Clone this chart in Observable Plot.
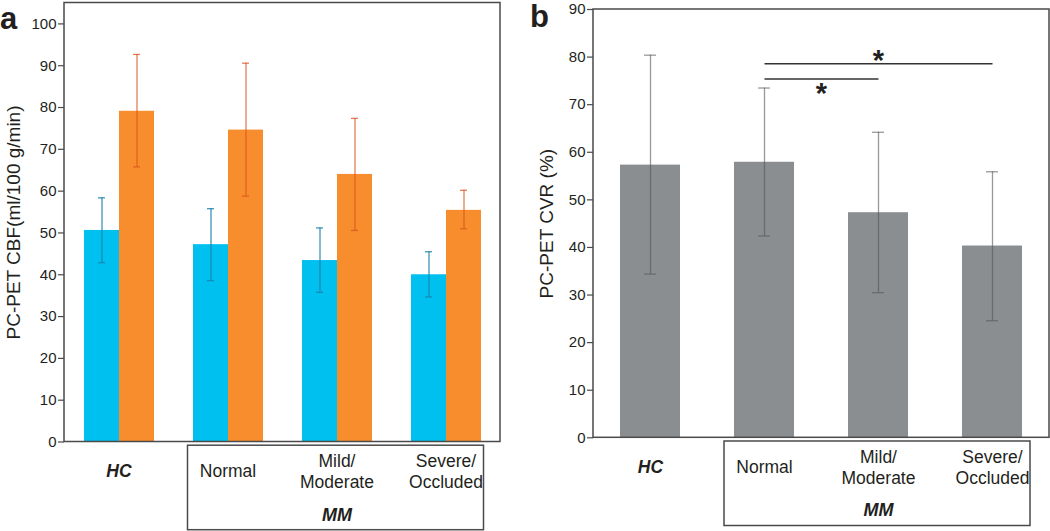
<!DOCTYPE html>
<html><head><meta charset="utf-8">
<script src="https://cdn.jsdelivr.net/npm/d3@7"></script>
<script src="https://cdn.jsdelivr.net/npm/@observablehq/plot@0.6"></script>
<style>
body{margin:0;background:#fff;}
#wrap{position:relative;width:1050px;height:531px;overflow:hidden;font-family:"Liberation Sans",Arial,Helvetica,sans-serif;color:#231f20;}
.panel{position:absolute;top:0;}
.tag{position:absolute;font-weight:bold;font-size:31px;line-height:1;}
</style></head><body>
<div id="wrap">
<div id="pa" class="panel" style="left:0"></div>
<div id="pb" class="panel" style="left:525px"></div>
<div class="tag" style="left:0;top:2.5px">a</div>
<div class="tag" style="left:530px;top:1px">b</div>
</div>
<script>
// ---------- data ----------
const groups = ["HC", "Normal", "Mild/Moderate", "Severe/Occluded"];
const groupLabels = ["HC", "Normal", "Mild/\nModerate", "Severe/\nOccluded"];
const series = ["Baseline", "Acetazolamide"];
const cbfBaseMean = [50.6, 47.2, 43.4, 40.0];
const cbfBaseLo   = [42.9, 38.6, 35.8, 34.7];
const cbfBaseHi   = [58.4, 55.8, 51.2, 45.5];
const cbfAczMean  = [79.1, 74.6, 64.0, 55.4];
const cbfAczLo    = [65.8, 58.8, 50.6, 51.0];
const cbfAczHi    = [92.7, 90.6, 77.4, 60.2];
const cvrMean = [57.3, 57.9, 47.3, 40.3];
const cvrLo   = [34.4, 42.4, 30.5, 24.6];
const cvrHi   = [80.4, 73.5, 64.2, 55.9];
const cbfTicks = [0, 10, 20, 30, 40, 50, 60, 70, 80, 90, 100];
const cvrTicks = [0, 10, 20, 30, 40, 50, 60, 70, 80, 90];
const sigFrom = ["Normal", "Normal"];
const sigTo = ["Mild/Moderate", "Severe/Occluded"];
const sigLineY = [75.4, 78.6];
const sigStarY = [73.3, 80.1];
const cbfLabel = "PC-PET CBF(ml/100 g/min)";
const cvrLabel = "PC-PET CVR (%)";
const mmLabel = "MM";

// ---------- tables ----------
const cbfRows = [];
groups.forEach((g, i) => {
  cbfRows.push({group: g, series: series[0], mean: cbfBaseMean[i], lo: cbfBaseLo[i], hi: cbfBaseHi[i]});
  cbfRows.push({group: g, series: series[1], mean: cbfAczMean[i], lo: cbfAczLo[i], hi: cbfAczHi[i]});
});
const cvrRows = groups.map((g, i) => ({group: g, mean: cvrMean[i], lo: cvrLo[i], hi: cvrHi[i]}));
const labelRows = groups.map((g, i) => ({group: g, label: groupLabels[i]}));
const sigRows = sigFrom.map((f, i) => ({from: f, to: sigTo[i], y: sigLineY[i], star: sigStarY[i],
  span: groups.indexOf(sigTo[i]) - groups.indexOf(f)}));

const FONT = "'Liberation Sans', Arial, Helvetica, sans-serif";
const INK = "#231f20";
const FRAME = "#4a4a4a";
const BLUE = "#00c0ef", ORANGE = "#f78d2c", GRAY = "#8b8e90";

function addFrameAndBox(svg, W, H, mL, mR, mT, mB, centerOf) {
  const s = d3.select(svg);
  s.append("rect")
    .attr("x", mL).attr("y", mT).attr("width", W - mL - mR).attr("height", H - mT - mB)
    .attr("fill", "none").attr("stroke", FRAME).attr("stroke-width", 1.5);
  const bottom = H - mB;
  const x1 = centerOf("Normal") - 40, x2 = centerOf("Severe/Occluded") + 38;
  s.append("rect")
    .attr("x", x1).attr("y", bottom + 3.7).attr("width", x2 - x1).attr("height", 84.5)
    .attr("fill", "none").attr("stroke", FRAME).attr("stroke-width", 1.5);
}

const labelStyle = {frameAnchor: "bottom", lineAnchor: "middle", textAnchor: "middle", lineHeight: 1.2, fontSize: 17.5, fill: INK};

// ---------- panel a ----------
{
  const W = 525, H = 531, mL = 64, mR = 25, mT = 2.5, mB = 89.5;
  const plot = Plot.plot({
    width: W, height: H, marginLeft: mL, marginRight: mR, marginTop: mT, marginBottom: mB,
    style: {fontFamily: FONT, fontSize: "15px", color: INK, background: "transparent", overflow: "visible"},
    fx: {domain: groups, padding: 0, axis: null},
    x: {domain: series, paddingInner: 0, paddingOuter: 0.514, axis: null},
    y: {domain: [0, 105]},
    color: {domain: series, range: [BLUE, ORANGE]},
    marks: [
      Plot.barY(cbfRows, {fx: "group", x: "series", y: "mean", fill: "series"}),
      Plot.ruleX(cbfRows.filter(d => d.series === series[0]), {fx: "group", x: "series", y1: "lo", y2: "hi", stroke: "#1b82aa", strokeOpacity: 0.85, strokeWidth: 1.3}),
      Plot.ruleX(cbfRows.filter(d => d.series === series[1]), {fx: "group", x: "series", y1: "lo", y2: "hi", stroke: "#d9531e", strokeOpacity: 0.75, strokeWidth: 1.3}),
      Plot.tickY(cbfRows.filter(d => d.series === series[0]), {fx: "group", x: "series", y: "lo", stroke: "#1b82aa", strokeOpacity: 0.85, strokeWidth: 1.3, inset: 14}),
      Plot.tickY(cbfRows.filter(d => d.series === series[0]), {fx: "group", x: "series", y: "hi", stroke: "#1b82aa", strokeOpacity: 0.85, strokeWidth: 1.3, inset: 14}),
      Plot.tickY(cbfRows.filter(d => d.series === series[1]), {fx: "group", x: "series", y: "lo", stroke: "#d9531e", strokeOpacity: 0.75, strokeWidth: 1.3, inset: 14}),
      Plot.tickY(cbfRows.filter(d => d.series === series[1]), {fx: "group", x: "series", y: "hi", stroke: "#d9531e", strokeOpacity: 0.75, strokeWidth: 1.3, inset: 14}),
      Plot.axisY({ticks: cbfTicks, tickSize: 6, tickPadding: 2, fontSize: 15, label: null, stroke: FRAME, strokeWidth: 1.2}),
      Plot.text([cbfLabel], {fx: () => groups[0], frameAnchor: "left", textAnchor: "middle", lineAnchor: "middle", rotate: -90, dx: -51, fontSize: 19, text: d => d, fill: INK}),
      Plot.text(labelRows.filter(d => d.group === "HC"), {...labelStyle, fx: "group", text: "label", dy: 28.5, fontWeight: "bold", fontStyle: "italic"}),
      Plot.text(labelRows.filter(d => d.group !== "HC"), {...labelStyle, fx: "group", text: "label", dy: 28.5}),
      Plot.text([mmLabel], {...labelStyle, fx: () => "Mild/Moderate", text: d => d, dy: 72.5, fontSize: 18, fontWeight: "bold", fontStyle: "italic"})
    ]
  });
  const fx = plot.scale("fx");
  addFrameAndBox(plot, W, H, mL, mR, mT, mB, g => fx.apply(g) + fx.bandwidth / 2);
  document.getElementById("pa").append(plot);
}

// ---------- panel b ----------
{
  const W = 525, H = 531, mL = 68, mR = 1, mT = 9, mB = 93.7;
  const step = (W - mL - mR) / groups.length;
  const plot = Plot.plot({
    width: W, height: H, marginLeft: mL, marginRight: mR, marginTop: mT, marginBottom: mB,
    style: {fontFamily: FONT, fontSize: "15px", color: INK, background: "transparent", overflow: "visible"},
    x: {domain: groups, paddingInner: 0.47, paddingOuter: 0.235, axis: null},
    y: {domain: [0, 90]},
    marks: [
      Plot.barY(cvrRows, {x: "group", y: "mean", fill: GRAY}),
      Plot.ruleX(cvrRows, {x: "group", y1: "lo", y2: "hi", stroke: "#555", strokeOpacity: 0.6, strokeWidth: 1.3}),
      Plot.tickY(cvrRows, {x: "group", y: "lo", stroke: "#555", strokeOpacity: 0.6, strokeWidth: 1.3, inset: 24}),
      Plot.tickY(cvrRows, {x: "group", y: "hi", stroke: "#555", strokeOpacity: 0.6, strokeWidth: 1.3, inset: 24}),
      Plot.link(sigRows, {x1: "from", x2: "to", y1: "y", y2: "y", stroke: "#333", strokeWidth: 1.3}),
      Plot.text(sigRows.filter(d => d.span === 1), {x: "from", y: "star", text: () => "*", dx: step / 2, dy: 4.5, fontSize: 29, fontWeight: "bold", fill: INK}),
      Plot.text(sigRows.filter(d => d.span === 2), {x: "from", y: "star", text: () => "*", dx: step, dy: 4, fontSize: 29, fontWeight: "bold", fill: INK}),
      Plot.axisY({ticks: cvrTicks, tickSize: 6, tickPadding: 2, fontSize: 15, label: null, stroke: FRAME, strokeWidth: 1.2}),
      Plot.text([cvrLabel], {frameAnchor: "left", textAnchor: "middle", lineAnchor: "middle", rotate: -90, dx: -46.5, fontSize: 19, text: d => d, fill: INK}),
      Plot.text(labelRows.filter(d => d.group === "HC"), {...labelStyle, x: "group", text: "label", dy: 28.5, fontWeight: "bold", fontStyle: "italic"}),
      Plot.text(labelRows.filter(d => d.group !== "HC"), {...labelStyle, x: "group", text: "label", dy: 28.5}),
      Plot.text([mmLabel], {...labelStyle, x: () => "Mild/Moderate", text: d => d, dy: 71, fontSize: 18, fontWeight: "bold", fontStyle: "italic"})
    ]
  });
  const xs = plot.scale("x");
  addFrameAndBox(plot, W, H, mL, mR, mT, mB, g => xs.apply(g) + xs.bandwidth / 2);
  document.getElementById("pb").append(plot);
}
</script>
</body></html>
